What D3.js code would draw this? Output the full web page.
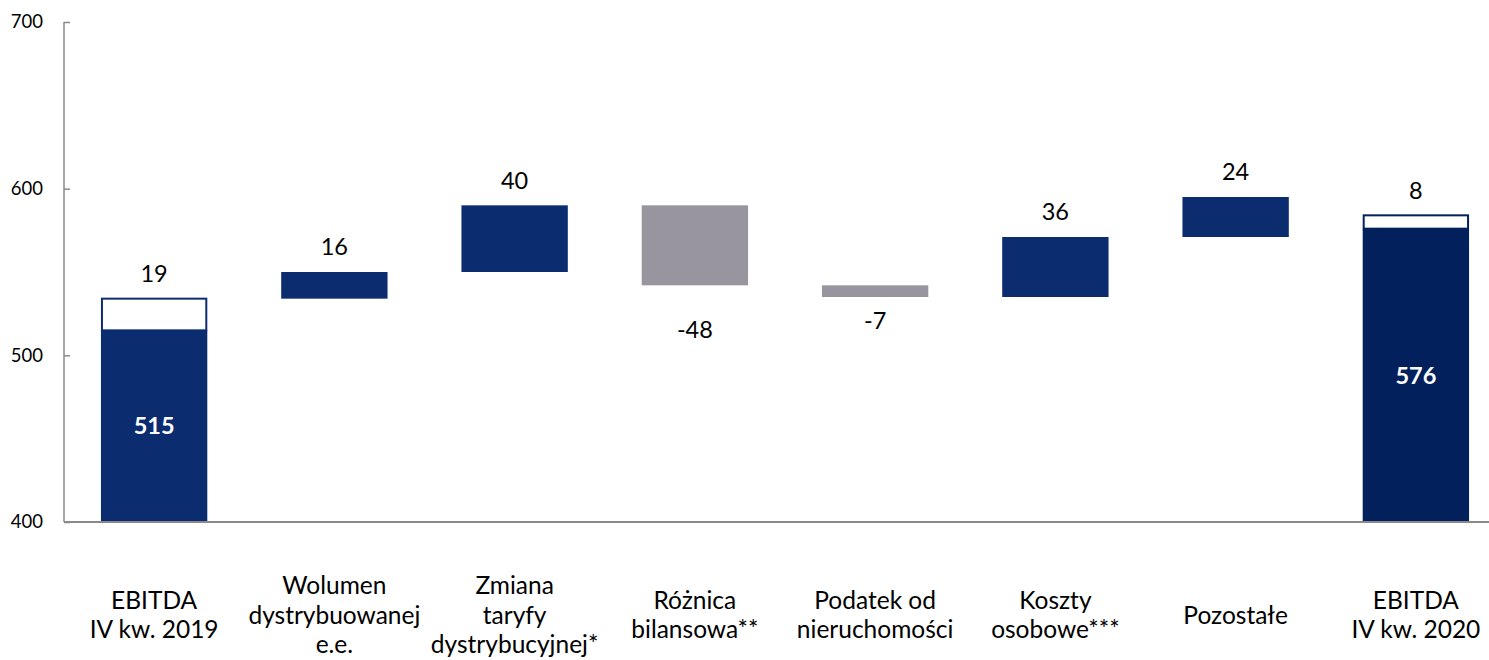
<!DOCTYPE html>
<html><head><meta charset="utf-8">
<script src="https://cdn.jsdelivr.net/npm/d3@7"></script>
<style>
html,body{margin:0;padding:0;background:#fff;}
svg{display:block;font-family:Lato, "Open Sans", sans-serif;}
</style></head>
<body><svg id="c" width="1489" height="660"></svg>
<script>
// Data
const categories = [
  ["EBITDA","IV kw. 2019"],
  ["Wolumen","dystrybuowanej","e.e."],
  ["Zmiana","taryfy","dystrybucyjnej*"],
  ["Różnica","bilansowa**"],
  ["Podatek od","nieruchomości"],
  ["Koszty","osobowe***"],
  ["Pozostałe"],
  ["EBITDA","IV kw. 2020"]
];
const baseTotals = [515, null, null, null, null, null, null, 576];   // solid totals
const deltas = [19, 16, 40, -48, -7, 36, 24, 8];                       // step values
const yTicks = [400, 500, 600, 700];

const svg = d3.select("#c");
const x = d3.scaleBand().domain(d3.range(categories.length)).range([64, 1506]).paddingInner(0.41).paddingOuter(0.205);
const y = d3.scaleLinear().domain([400, 700]).range([522, 22]);

const BLUE = "#0B2C6F", NAVY = "#02205C", GREY = "#99959F";

// compute waterfall
let running = 515;
const steps = [];
deltas.forEach((d, i) => {
  let start, end;
  if (i === 0) { start = baseTotals[0]; end = start + d; running = end; }
  else if (i === deltas.length - 1) { start = baseTotals[i]; end = start + d; }
  else { start = running; end = running + d; running = end; }
  steps.push({i, start, end, d});
});

// axes
const yAxis = d3.axisLeft(y).tickValues(yTicks).tickSize(-6).tickPadding(21);
const ga = svg.append("g").attr("transform", "translate(64,0)").call(yAxis);
ga.select(".domain").remove();
ga.selectAll(".tick line").attr("stroke", "#898989").attr("stroke-width", 1.5);
ga.selectAll(".tick text").attr("font-size", 18.5).attr("fill", "#000").attr("font-family", "Lato, sans-serif");
svg.append("line").attr("x1", 64).attr("x2", 64).attr("y1", y(700)).attr("y2", y(400)).attr("stroke", "#898989").attr("stroke-width", 1.5);

// solid totals
baseTotals.forEach((v, i) => {
  if (v == null) return;
  svg.append("rect").attr("x", x(i)).attr("width", x.bandwidth())
    .attr("y", y(v)).attr("height", y(400) - y(v))
    .attr("fill", i === 0 ? BLUE : NAVY);
  svg.append("text").attr("x", x(i) + x.bandwidth()/2).attr("y", y((400 + v)/2))
    .attr("dy", "0.35em").attr("text-anchor", "middle").attr("fill", "#fff")
    .attr("font-weight", "bold").attr("font-size", 23.5).text(v);
});

// step bars
steps.forEach(s => {
  const top = Math.max(s.start, s.end), bot = Math.min(s.start, s.end);
  const isTotalAdd = (s.i === 0 || s.i === deltas.length - 1);
  const r = svg.append("rect").attr("x", x(s.i)).attr("width", x.bandwidth())
    .attr("y", y(top)).attr("height", y(bot) - y(top));
  if (isTotalAdd) {
    r.attr("fill", "#fff").attr("stroke", s.i === 0 ? BLUE : NAVY).attr("stroke-width", 2)
     .attr("x", x(s.i) + 1).attr("width", x.bandwidth() - 2);
  } else {
    r.attr("fill", s.d < 0 ? GREY : BLUE);
  }
  const cx = x(s.i) + x.bandwidth()/2;
  let ly;
  if (s.d >= 0) ly = y(top) - 25;
  else ly = y(bot) + (s.d < -20 ? 44 : 24);
  svg.append("text").attr("x", cx).attr("y", ly).attr("dy", "0.35em")
    .attr("text-anchor", "middle").attr("font-size", 23.5).attr("fill", "#000").text(s.d);
});

// baseline
svg.append("line").attr("x1", 64).attr("x2", 1489).attr("y1", y(400)).attr("y2", y(400))
  .attr("stroke", "#898989").attr("stroke-width", 2);

// category labels
categories.forEach((lines, i) => {
  const cx = x(i) + x.bandwidth()/2;
  const lh = 29.5;
  const y0 = 615 - (lines.length - 1) * lh / 2;
  const t = svg.append("text").attr("text-anchor", "middle").attr("font-size", 24.5).attr("fill", "#000");
  lines.forEach((ln, k) => {
    t.append("tspan").attr("x", cx).attr("y", y0 + k * lh).attr("dy", "0.35em").text(ln);
  });
});
</script></body></html>
